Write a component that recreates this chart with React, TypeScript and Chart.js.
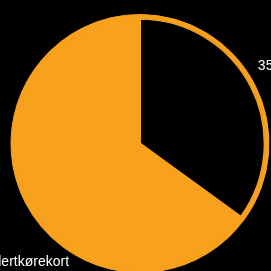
import React, { useEffect, useRef } from "react";
import { Chart, registerables } from "chart.js";

Chart.register(...registerables);

const categories = ["35", "Knallertkørekort"];
const values = [35, 65];
const ringValues = [35, 65];

const ORANGE = "#F8A11D";
const BLACK = "#000000";

const labelPlugin = {
  id: "sliceLabels",
  beforeDraw(chart: any) {
    const { ctx, width, height } = chart;
    ctx.save();
    ctx.fillStyle = BLACK;
    ctx.fillRect(0, 0, width, height);
    ctx.restore();
  },
  afterDraw(chart: any) {
    const meta = chart.getDatasetMeta(1);
    const { ctx } = chart;
    const fracs = [0.45, 0.363];
    const gaps = [12, 9];
    ctx.save();
    ctx.font = "14px 'Liberation Sans', Arial, sans-serif";
    ctx.fillStyle = "#ffffff";
    ctx.textBaseline = "middle";
    meta.data.forEach((arc: any, i: number) => {
      const p = arc.getProps(["x", "y", "startAngle", "endAngle", "outerRadius"], true);
      const outer = chart.getDatasetMeta(0).data[i].outerRadius;
      const a = p.startAngle + fracs[i] * (p.endAngle - p.startAngle);
      const r = outer + gaps[i];
      const x = p.x + r * Math.cos(a);
      const y = p.y + r * Math.sin(a);
      ctx.textAlign = Math.cos(a) >= 0 ? "left" : "right";
      ctx.fillText(categories[i], x, y);
    });
    ctx.restore();
  },
};

export default function App() {
  const ref = useRef<HTMLCanvasElement>(null);
  useEffect(() => {
    const chart = new Chart(ref.current as HTMLCanvasElement, {
      type: "pie",
      data: {
        labels: categories,
        datasets: [
          {
            data: ringValues,
            backgroundColor: [ORANGE, ORANGE],
            borderColor: [ORANGE, ORANGE],
            borderWidth: 1,
            weight: 1,
          },
          {
            data: values,
            backgroundColor: [BLACK, ORANGE],
            borderColor: [ORANGE, ORANGE],
            borderWidth: [1, 1.5],
            borderAlign: ["inner", "center"],
            weight: 31,
          } as any,
        ],
      },
      options: {
        responsive: false,
        animation: false,
        radius: 129,
        layout: { padding: { left: 11.5, right: 31.5, top: 15, bottom: 28 } },
        plugins: {
          legend: { display: false },
          tooltip: { enabled: false },
        },
      } as any,
      plugins: [labelPlugin],
    });
    return () => chart.destroy();
  }, []);
  return (
    <div
      style={{
        position: "fixed",
        left: 0,
        top: 0,
        width: 271,
        height: 271,
        overflow: "hidden",
        background: "#000",
      }}
    >
      <canvas ref={ref} width={300} height={300} style={{ display: "block" }} />
    </div>
  );
}
